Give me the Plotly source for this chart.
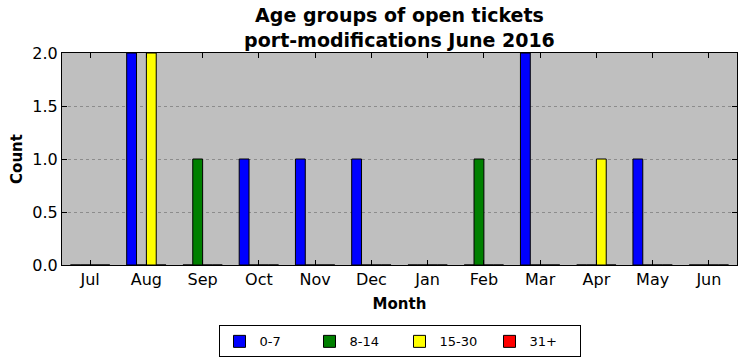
import plotly.graph_objects as go

months = ["Jul", "Aug", "Sep", "Oct", "Nov", "Dec", "Jan", "Feb", "Mar", "Apr", "May", "Jun"]
age_0_7 = [0, 2, 0, 1, 1, 1, 0, 0, 2, 0, 1, 0]
age_8_14 = [0, 0, 1, 0, 0, 0, 0, 1, 0, 0, 0, 0]
age_15_30 = [0, 2, 0, 0, 0, 0, 0, 0, 0, 1, 0, 0]
age_31_plus = [0, 0, 0, 0, 0, 0, 0, 0, 0, 0, 0, 0]

series = [("0-7", age_0_7, "#0000ff"), ("8-14", age_8_14, "#008000"),
          ("15-30", age_15_30, "#ffff00"), ("31+", age_31_plus, "#ff0000")]

xs = list(range(len(months)))
fig = go.Figure()
for name, vals, col in series:
    fig.add_trace(go.Bar(x=xs, y=vals, name=name, marker=dict(color=col, line=dict(color="black", width=1))))

font = "DejaVu Sans"
fig.update_layout(
    width=746, height=361,
    margin=dict(l=62, r=9, t=53, b=96, autoexpand=False),
    paper_bgcolor="white", plot_bgcolor="#bfbfbf",
    barmode="group", bargap=0.3, bargroupgap=0,
    font=dict(family=font, size=12, color="black"),
    title=dict(text="<b>Age groups of open tickets<br>port-modifications June 2016</b>",
               x=0.5355, xanchor="center", yref="container", y=0.938, yanchor="top",
               font=dict(family=font, size=19, color="black")),
    legend=dict(orientation="h", x=0.5, xanchor="center", y=-0.285, yanchor="top",
                bordercolor="black", borderwidth=1, font=dict(size=13),
                itemwidth=30, entrywidth=45, entrywidthmode="pixels"),
    showlegend=True,
)
fig.update_xaxes(range=[-0.5, 11.5], tickmode="array", tickvals=xs, ticktext=months,
                 ticks="inside", ticklen=5, tickcolor="black", mirror="allticks",
                 showline=True, linecolor="black", linewidth=1, showgrid=False,
                 zeroline=False, automargin=False,
                 title=dict(text="<b>Month</b>", font=dict(size=15), standoff=10),
                 tickfont=dict(size=16))
fig.update_yaxes(range=[0, 2], tickvals=[0, 0.5, 1, 1.5, 2], tickformat=".1f",
                 ticks="inside", ticklen=5, tickcolor="black", mirror="allticks",
                 showline=True, linecolor="black", linewidth=1,
                 showgrid=True, gridcolor="#8c8c8c", griddash="dot", gridwidth=1,
                 zeroline=False, automargin=False,
                 title=dict(text="<b>Count</b>", font=dict(size=15), standoff=6),
                 tickfont=dict(size=16))
fig.write_html("out.html", config={"displayModeBar": False},
               post_script="document.body.style.margin='0px';")
